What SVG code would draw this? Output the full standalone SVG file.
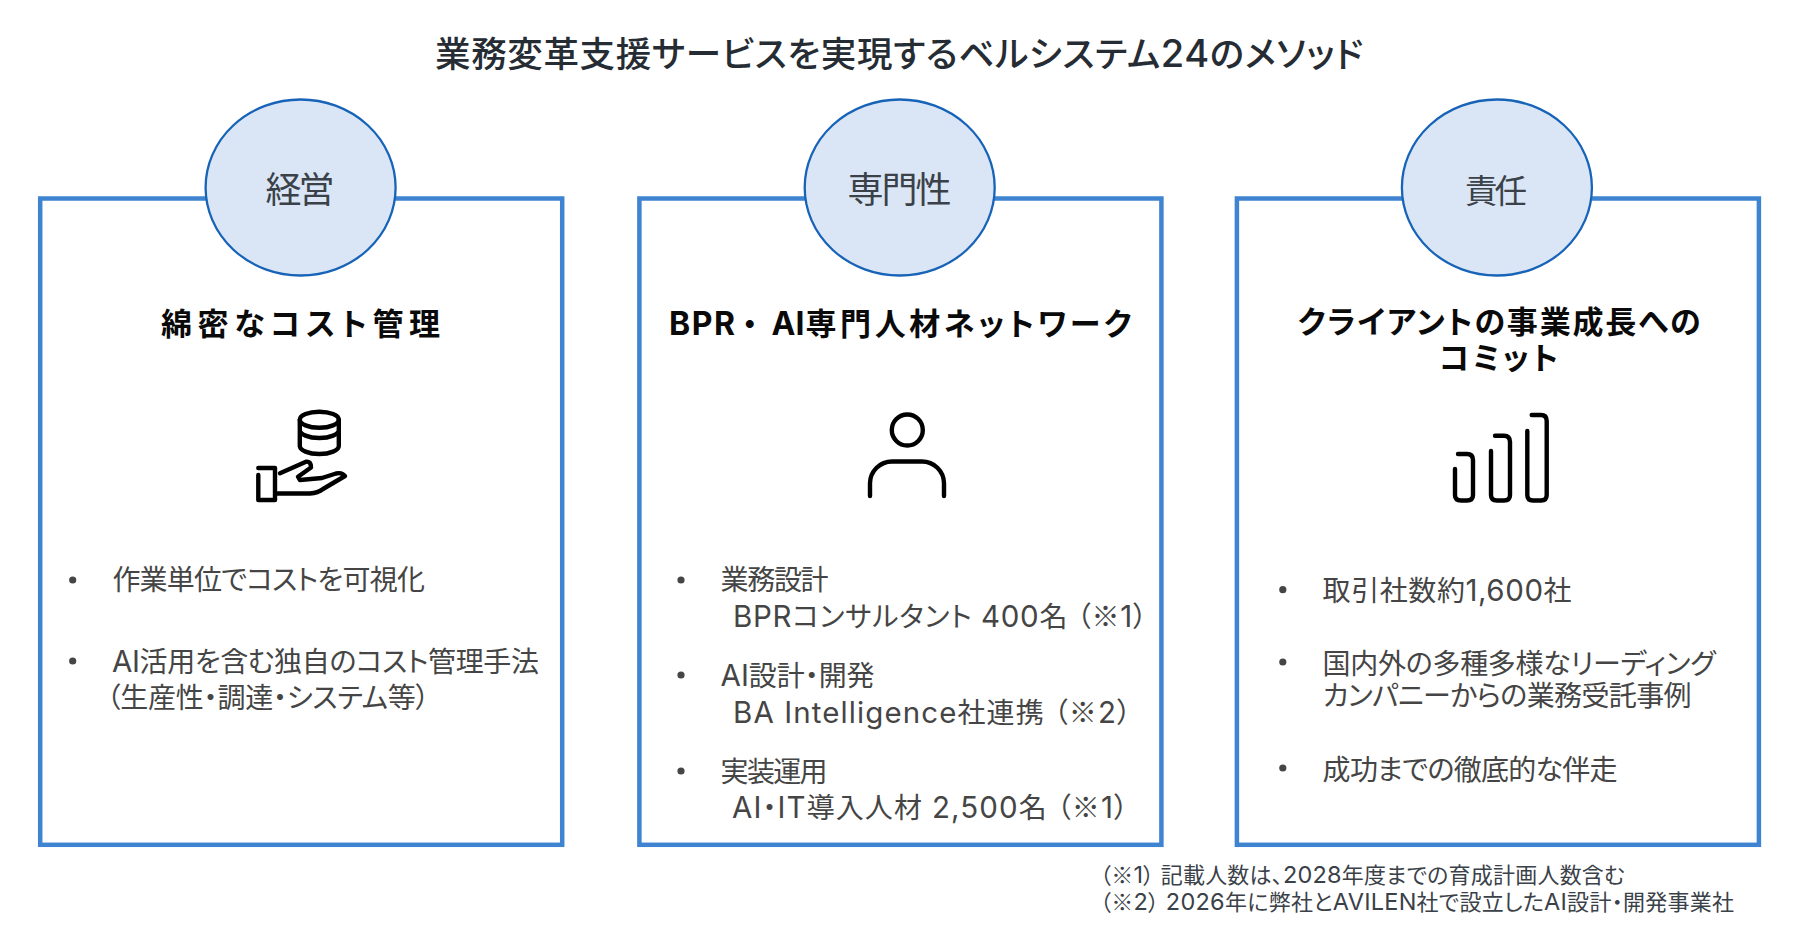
<svg xmlns="http://www.w3.org/2000/svg" width="1799" height="937" viewBox="0 0 1799 937">
<style>
text{font-family:"Inter","Noto Sans CJK JP",sans-serif;font-feature-settings:"palt";white-space:pre}
.frame{fill:#fff;stroke:#3f84d0;stroke-width:4.5}
.badge{fill:#dae6f5;stroke:#1763b8;stroke-width:2.3}
.badgetxt{font-size:36px;fill:#3a4148}
.head{font-size:31px;font-weight:600;fill:#0a0a0a}
.body{font-size:28px;fill:#454545}
.body .l{font-size:29.5px}
.note{font-size:22px;fill:#3a4148}
.note .l{font-size:23.5px}
.title{font-size:35.5px;font-weight:500;fill:#262c33}
.title .l{font-size:38px}
.k{font-family:"Noto Sans CJK JP",sans-serif}
.dot{fill:#454545}
.icon{fill:none;stroke:#000;stroke-width:4.4;stroke-linecap:round;stroke-linejoin:round}
</style>
<rect width="1799" height="937" fill="#fff"/>
<g id="title"><text class="title" x="435" y="67" textLength="928" lengthAdjust="spacing">業務変革支援サービスを実現するベルシステム<tspan class="l">24</tspan>のメソッド</text></g>
<g id="card-keiei">
<rect class="frame" x="40.2" y="198.5" width="522" height="646.3"/>
<ellipse class="badge" cx="300.6" cy="187.5" rx="95" ry="88"/>
<text class="badgetxt" x="265.5" y="203" textLength="69" lengthAdjust="spacing">経営</text>
<text class="head" x="161" y="335" textLength="279" lengthAdjust="spacing">綿密なコスト管理</text>
<g class="icon">
<ellipse cx="319.3" cy="419.7" rx="19.5" ry="8"/>
<path d="M299.8 419.7V446A19.5 8 0 0 0 338.8 446V419.7M299.8 430A19.5 8 0 0 0 338.8 430"/>
<path d="M258.3 475V500H275V468H258.3M275 493.5H310Q318 493 323 489L345 476Q342 472 336 473.5L322 478L300 480L298 476.7L311 467.5Q311 461 306 461.7L280 473.3"/>
</g>
<circle class="dot" cx="72.7" cy="580" r="3.6"/>
<text class="body" x="112.4" y="590" textLength="312.5" lengthAdjust="spacing">作業単位でコストを可視化</text>
<circle class="dot" cx="72.7" cy="661" r="3.6"/>
<text class="body" x="112" y="671.5" textLength="427" lengthAdjust="spacing"><tspan class="l">AI</tspan>活用を含む独自のコスト管理手法</text>
<text class="body" x="106.5" y="707.5" textLength="323" lengthAdjust="spacing"><tspan class="k">（</tspan>生産性・調達・システム等<tspan class="k">）</tspan></text>
</g>
<g id="card-senmon">
<rect class="frame" x="639.4" y="198.5" width="522" height="646.3"/>
<ellipse class="badge" cx="899.7" cy="187.5" rx="95" ry="88"/>
<text class="badgetxt" x="847.5" y="203" textLength="104" lengthAdjust="spacing">専門性</text>
<text class="head" x="669" y="335"><tspan style="font-size:32px;font-weight:700;letter-spacing:1.5px">BPR</tspan><tspan x="742" class="k">・</tspan><tspan x="771.5" style="font-size:32px;font-weight:700">AI</tspan><tspan x="805.5" style="letter-spacing:3.6px">専門人材ネットワーク</tspan></text>
<g class="icon">
<circle cx="907.3" cy="430" r="15.5"/>
<path d="M870 496V483A22 22 0 0 1 892 461.5H922A22 22 0 0 1 944 483V496"/>
</g>
<circle class="dot" cx="681" cy="580" r="3.6"/>
<text class="body" x="720.6" y="590" textLength="108" lengthAdjust="spacing">業務設計</text>
<text class="body" x="733" y="626.5" textLength="414" lengthAdjust="spacing"><tspan class="l">BPR</tspan>コンサルタント <tspan class="l">400</tspan>名 <tspan class="k">（※</tspan><tspan class="l">1</tspan><tspan class="k">）</tspan></text>
<circle class="dot" cx="681" cy="675" r="3.6"/>
<text class="body" x="720.6" y="686" textLength="154" lengthAdjust="spacing"><tspan class="l">AI</tspan>設計・開発</text>
<text class="body" x="733" y="722.5" textLength="398" lengthAdjust="spacing"><tspan class="l">BA Intelligence</tspan>社連携 <tspan class="k">（※</tspan><tspan class="l">2</tspan><tspan class="k">）</tspan></text>
<circle class="dot" cx="681" cy="771" r="3.6"/>
<text class="body" x="720.6" y="781.5" textLength="107" lengthAdjust="spacing">実装運用</text>
<text class="body" x="732" y="818" textLength="396" lengthAdjust="spacing"><tspan class="l">AI</tspan>・<tspan class="l">IT</tspan>導入人材 <tspan class="l">2,500</tspan>名 <tspan class="k">（※</tspan><tspan class="l">1</tspan><tspan class="k">）</tspan></text>
</g>
<g id="card-sekinin">
<rect class="frame" x="1236.9" y="198.5" width="522" height="646.3"/>
<ellipse class="badge" cx="1496.9" cy="187.5" rx="95" ry="88"/>
<text class="badgetxt" x="1465" y="203" style="font-size:32.5px" textLength="62" lengthAdjust="spacing">責任</text>
<text class="head" x="1297.7" y="333" textLength="403" lengthAdjust="spacing">クライアントの事業成長への</text>
<text class="head" x="1439" y="369" textLength="119" lengthAdjust="spacing">コミット</text>
<g class="icon">
<path d="M1455 469V495Q1455 500.5 1461 500.5H1467Q1473 500.5 1473 495V460Q1473 454 1467 454H1458"/>
<path d="M1491 451V495Q1491 500.5 1497 500.5H1504Q1510 500.5 1510 495V442Q1510 435.7 1504 435.7H1495"/>
<path d="M1527.3 431V495Q1527.3 500.5 1533 500.5H1541Q1546.7 500.5 1546.7 495V421Q1546.7 415 1541 415H1531.7"/>
</g>
<circle class="dot" cx="1282.8" cy="589.7" r="3.6"/>
<text class="body" x="1322.6" y="600.5" textLength="249" lengthAdjust="spacing">取引社数約<tspan class="l">1,600</tspan>社</text>
<circle class="dot" cx="1282.8" cy="662" r="3.6"/>
<text class="body" x="1322.6" y="673.5" textLength="393" lengthAdjust="spacing">国内外の多種多様なリーディング</text>
<text class="body" x="1322.6" y="705.5" textLength="369" lengthAdjust="spacing">カンパニーからの業務受託事例</text>
<circle class="dot" cx="1282.8" cy="768" r="3.6"/>
<text class="body" x="1322.6" y="779.5" textLength="295" lengthAdjust="spacing">成功までの徹底的な伴走</text>
</g>
<g id="notes">
<text class="note" x="1100" y="883" textLength="525" lengthAdjust="spacing"><tspan class="k">（※</tspan><tspan class="l">1</tspan><tspan class="k">）</tspan> 記載人数は、<tspan class="l">2028</tspan>年度までの育成計画人数含む</text>
<text class="note" x="1100" y="910" textLength="634" lengthAdjust="spacing"><tspan class="k">（※</tspan><tspan class="l">2</tspan><tspan class="k">）</tspan> <tspan class="l">2026</tspan>年に弊社と<tspan class="l">AVILEN</tspan>社で設立した<tspan class="l">AI</tspan>設計・開発事業社</text>
</g>
</svg>
